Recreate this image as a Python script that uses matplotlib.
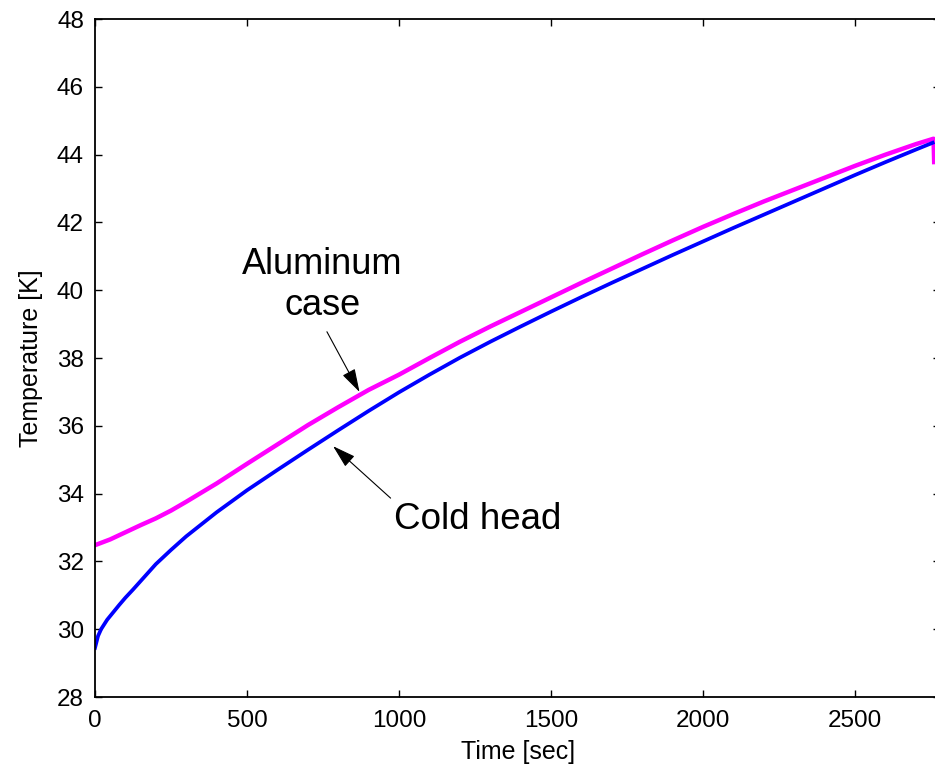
import numpy as np
import matplotlib
matplotlib.use('Agg')
import matplotlib.pyplot as plt

plt.rcParams['font.family'] = ['Liberation Sans', 'DejaVu Sans']

# cold head temperature during warm-up
time_cold = [0, 10, 20, 40, 60, 80, 100, 125, 150, 175, 200, 250, 300, 400, 500,
             600, 700, 800, 900, 1000, 1100, 1200, 1300, 1400, 1500, 1600, 1700,
             1800, 1900, 2000, 2100, 2200, 2300, 2400, 2500, 2600, 2700, 2755]
temp_cold = [29.45, 29.8, 30.0, 30.28, 30.5, 30.72, 30.93, 31.17, 31.42, 31.67,
             31.92, 32.34, 32.74, 33.45, 34.1, 34.7, 35.29, 35.87, 36.44, 36.99,
             37.51, 38.01, 38.48, 38.93, 39.37, 39.8, 40.22, 40.63, 41.04, 41.44,
             41.84, 42.23, 42.62, 43.01, 43.4, 43.78, 44.15, 44.35]

# aluminum case temperature
time_case = [0, 50, 100, 150, 200, 250, 300, 350, 400, 500, 600, 700, 800, 900,
             1000, 1100, 1200, 1300, 1400, 1500, 1600, 1700, 1800, 1900, 2000,
             2100, 2200, 2300, 2400, 2500, 2600, 2700, 2758, 2760]
temp_case = [32.48, 32.65, 32.86, 33.07, 33.27, 33.5, 33.76, 34.03, 34.3, 34.88,
             35.45, 36.02, 36.55, 37.06, 37.51, 38.0, 38.48, 38.93, 39.36, 39.79,
             40.22, 40.64, 41.06, 41.47, 41.87, 42.25, 42.62, 42.97, 43.32, 43.67,
             44.0, 44.31, 44.47, 43.78]

xticks = [0, 500, 1000, 1500, 2000, 2500]
yticks = [28, 30, 32, 34, 36, 38, 40, 42, 44, 46, 48]

fig = plt.figure(figsize=(9.35, 7.68), dpi=100)
ax = fig.add_axes([0.1016, 0.0924, 0.904, 0.8828])

ax.plot(time_case, temp_case, color='#ff00ff', lw=3.2)
ax.plot(time_cold, temp_cold, color='#0000ff', lw=2.7)

ax.set_xlim(0, 2780)
ax.set_ylim(28, 48)
ax.set_xticks(xticks)
ax.set_yticks(yticks)
ax.tick_params(direction='in', length=5, width=1, top=True, right=True,
               labelsize=17.5, colors='black')
ax.tick_params(axis='x', pad=9)
ax.tick_params(axis='y', pad=8)
for s in ax.spines.values():
    s.set_linewidth(1.3)

ax.set_xlabel('Time [sec]', fontsize=18, labelpad=6)
ax.set_ylabel('Temperature [K]', fontsize=18, labelpad=10)

head = '-|>,head_length=0.6,head_width=0.18'
ax.annotate('Aluminum\ncase', xy=(870, 37.0), xytext=(747, 40.15),
            ha='center', va='center', fontsize=26, linespacing=1.2,
            arrowprops=dict(arrowstyle=head, color='black', lw=0.8,
                            mutation_scale=24, shrinkA=5, shrinkB=0,
                            relpos=(0.5, 0.0)))
ax.annotate('Cold head', xy=(783, 35.4), xytext=(1260, 33.25),
            ha='center', va='center', fontsize=26.5,
            arrowprops=dict(arrowstyle=head, color='black', lw=0.8,
                            mutation_scale=24, shrinkA=1, shrinkB=0,
                            relpos=(0.0, 1.0)))

fig.savefig('out.png', dpi=100)
